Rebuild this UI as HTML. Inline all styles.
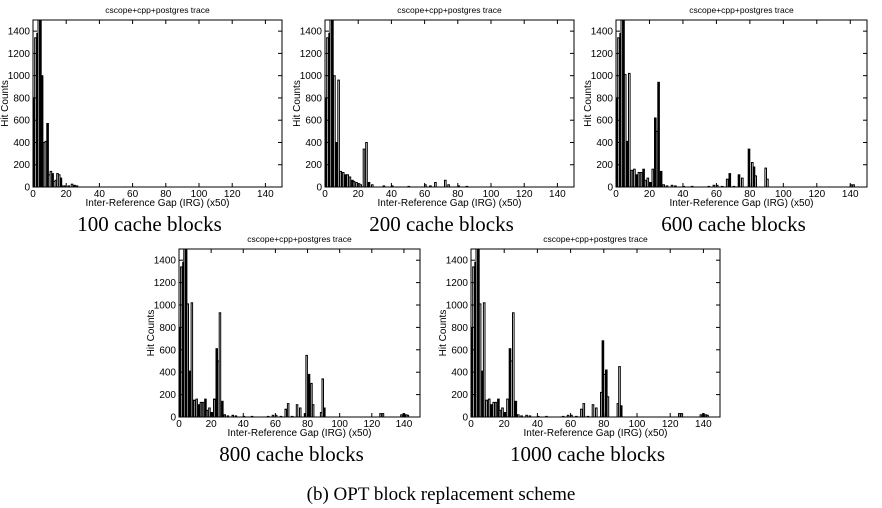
<!DOCTYPE html>
<html><head><meta charset="utf-8">
<style>
html,body{margin:0;padding:0;background:#fff;width:882px;height:508px;overflow:hidden}
svg{position:absolute;left:0;top:0}
</style></head>
<body>
<svg id="s" width="882" height="508" xmlns="http://www.w3.org/2000/svg" font-family="Liberation Sans, sans-serif"></svg>
<script>
const S=document.getElementById('s');
let out='';
const base=[[0,800,1],[1,1340,0],[2.3,1380,1],[3,1500,0],[4,1500,1],[5,1010,0],[6.5,410,1],[7.5,1020,0],[9,150,0],[10.5,160,0],[12,110,1],[13.2,130,0],[14.5,130,0],[16,160,1],[17,60,0],[18.5,80,0],[20,40,1],[21.5,160,0],[23,610,1],[24,500,0],[25,930,0],[26.5,140,1],[28,20,0],[30,10,0],[33,15,0],[35,10,0],[40,5,0],[45,5,0],[55,5,0],[58,15,0],[60,15,0],[63,5,0],[66,70,0],[67.5,120,0],[70,5,0],[73,110,0],[75,80,0]];
const c4=base.concat([[78,30,1],[79,550,0],[80.5,380,1],[82,300,0],[83,110,0],[88,40,0],[89,340,0],[90,80,1],[125,30,0],[126.5,30,0],[138,20,0],[139.5,30,1],[141,20,0],[142,15,0]]);
const c5=base.concat([[78,220,0],[79,680,1],[80,380,0],[81,420,1],[82,180,0],[88,120,0],[89,450,0],[90,100,1],[125,30,0],[126.5,30,0],[138,20,0],[139.5,30,1],[141,20,0],[142,15,0]]);
const c3=base.map(b=>b.slice());
c3.forEach(b=>{if(b[0]==23)b[1]=620;if(b[0]==25){b[1]=940;b[2]=1;}if(b[0]==67.5)b[2]=1;if(b[0]==73)b[2]=1;});
const c3b=c3.concat([[79,340,1],[81,220,0],[82,180,1],[83,100,0],[89,170,0],[90,70,0],[140,20,0],[141.5,20,0]]);
const c2=[[0,800,1],[1,1340,0],[2.3,1380,1],[3,1500,0],[4,1500,1],[5.2,1000,0],[6.5,400,1],[7.7,960,0],[9,140,0],[10.5,130,0],[12,110,1],[13.2,110,0],[14.5,90,0],[16,60,1],[17,50,0],[18.5,40,0],[20,30,0],[21,20,0],[23,340,0],[24.5,400,0],[26,40,1],[28,20,0],[35,10,0],[40,10,0],[50,5,0],[60,20,0],[63,10,0],[66,40,0],[72,60,0],[74,20,0],[80,10,0],[85,5,0]];
const c1=[[0,800,1],[1,1340,0],[2.3,1380,1],[3,1500,0],[4,1500,1],[5,1000,1],[6.2,400,0],[7.3,410,0],[8.3,570,1],[9.3,110,0],[10.3,140,0],[11.3,120,1],[12.3,50,0],[13.3,60,0],[14.3,120,0],[15.3,110,0],[16.3,80,1],[17.3,10,0],[19,10,0],[21,10,0],[23,25,0],[24.5,15,1],[26,10,0]];
function chart(x0,x1,y0,y1,data,cap){
  const W=x1-x0,H=y1-y0,fx=v=>x0+v/150*W,fy=v=>y1-Math.min(v,1500)/1500*H;
  const bw=W/150*0.95;
  data.forEach(([x,v,f])=>{const X=fx(x),Y=fy(v);
    out+=`<rect x="${X.toFixed(1)}" y="${Y.toFixed(1)}" width="${bw.toFixed(1)}" height="${(y1-Y).toFixed(1)}" fill="${f?'#000':'#fff'}" stroke="#000" stroke-width="1"/>`;});
  out+=`<rect x="${x0}" y="${y0}" width="${W}" height="${H}" fill="none" stroke="#000" stroke-width="1"/>`;
  for(let v=0;v<=1400;v+=200){const Y=fy(v);
    out+=`<line x1="${x0}" x2="${x0+4}" y1="${Y}" y2="${Y}" stroke="#000"/><line x1="${x1-4}" x2="${x1}" y1="${Y}" y2="${Y}" stroke="#000"/>`;
    out+=`<text x="${x0-3}" y="${Y+3.5}" font-size="10" text-anchor="end">${v}</text>`;}
  for(let v=0;v<=140;v+=20){const X=fx(v);
    out+=`<line x1="${X}" x2="${X}" y1="${y1}" y2="${y1-4}" stroke="#000"/><line x1="${X}" x2="${X}" y1="${y0}" y2="${y0+4}" stroke="#000"/>`;
    out+=`<text x="${X}" y="${y1+10}" font-size="10" text-anchor="middle">${v}</text>`;}
  out+=`<text x="${(x0+x1)/2}" y="${y0-7}" font-size="8.5" text-anchor="middle">cscope+cpp+postgres trace</text>`;
  out+=`<text x="${(x0+x1)/2}" y="${y1+19}" font-size="10" text-anchor="middle">Inter-Reference Gap (IRG) (x50)</text>`;
  out+=`<text transform="translate(${x0-25},${(y0+y1)/2}) rotate(-90)" font-size="10" text-anchor="middle">Hit Counts</text>`;
  out+=`<text x="${(x0+x1)/2-8}" y="${y1+44}" font-size="21" font-family="Liberation Serif, serif" text-anchor="middle">${cap}</text>`;
}
chart(33,282,20,187,c1,'100 cache blocks');
chart(325,574,20,187,c2,'200 cache blocks');
chart(616,867,20,187,c3b,'600 cache blocks');
chart(179,420,249,417,c4,'800 cache blocks');
chart(471,720,249,417,c5,'1000 cache blocks');
out+=`<text x="441" y="500" font-size="19" font-family="Liberation Serif, serif" text-anchor="middle">(b) OPT block replacement scheme</text>`;
S.innerHTML=out;
</script>
</body></html>
